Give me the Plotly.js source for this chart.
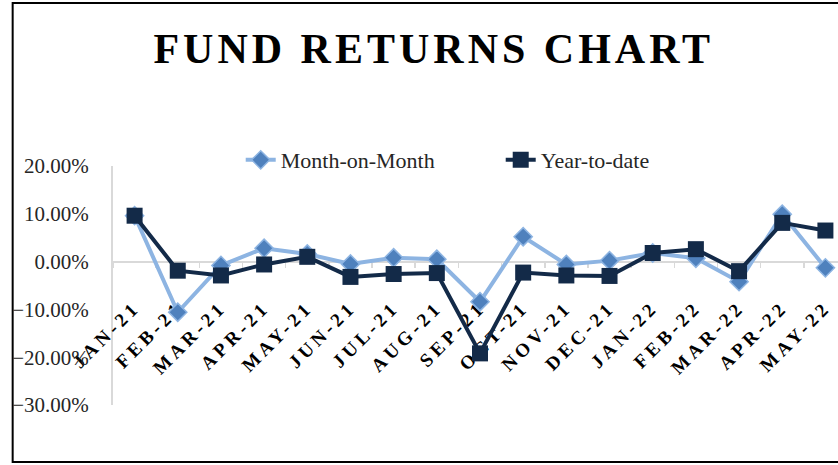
<!DOCTYPE html>
<html>
<head>
<meta charset="utf-8">
<script src="https://cdn.plot.ly/plotly-3.0.1.min.js"></script>
<style>
html, body { margin: 0; padding: 0; overflow: hidden; background: #fff; }
#chart { width: 870px; height: 465px; }
.gtitle { letter-spacing: 4px; }
.xtick text { letter-spacing: 4px; }
</style>
</head>
<body>
<div id="chart"></div>
<script>
const months = ['JAN-21','FEB-21','MAR-21','APR-21','MAY-21','JUN-21','JUL-21','AUG-21','SEP-21','OCT-21','NOV-21','DEC-21','JAN-22','FEB-22','MAR-22','APR-22','MAY-22'];
const monthOnMonth = [0.096, -0.106, -0.008, 0.028, 0.016, -0.005, 0.008, 0.005, -0.084, 0.052, -0.006, 0.002, 0.018, 0.007, -0.042, 0.099, -0.013];
const yearToDate = [0.096, -0.019, -0.029, -0.006, 0.010, -0.032, -0.026, -0.024, -0.192, -0.023, -0.029, -0.030, 0.018, 0.026, -0.020, 0.081, 0.065];
const yTicks = [-0.3, -0.2, -0.1, 0, 0.1, 0.2];

const serif = 'Liberation Serif, DejaVu Serif, serif';

const traces = [
  {
    x: months, y: monthOnMonth, name: 'Month-on-Month', type: 'scatter', mode: 'lines+markers',
    line: {color: '#8DB4E2', width: 4},
    marker: {symbol: 'diamond', size: 14, color: '#4F81BD', line: {color: '#8DB4E2', width: 1.5}}
  },
  {
    x: months, y: yearToDate, name: 'Year-to-date', type: 'scatter', mode: 'lines+markers',
    line: {color: '#132A48', width: 4},
    marker: {symbol: 'square', size: 16, color: '#132A48'}
  }
];

const layout = {
  width: 870, height: 465,
  margin: {l: 113, r: 23, t: 166, b: 60},
  paper_bgcolor: '#fff', plot_bgcolor: 'rgba(0,0,0,0)',
  showlegend: true,
  title: {
    text: 'FUND RETURNS CHART',
    font: {family: serif, size: 42, color: '#000', weight: 700},
    xref: 'paper', x: 0.437, xanchor: 'center',
    yref: 'container', y: 0.897, yanchor: 'middle'
  },
  legend: {
    orientation: 'h', x: 0.174, xanchor: 'left', y: 1.025, yanchor: 'middle',
    font: {family: serif, size: 22, color: '#262626'},
    entrywidth: 215, bgcolor: 'rgba(0,0,0,0)'
  },
  xaxis: {
    type: 'category', range: [-0.5, 16.5],
    anchor: 'free', position: 0.6,
    showline: true, linecolor: '#D9D9D9', linewidth: 2,
    showgrid: false, zeroline: false,
    ticks: 'outside', ticklen: 5, tickcolor: '#D9D9D9', tickwidth: 1.5, tickson: 'boundaries',
    tickangle: -45, ticklabelstandoff: 26,
    tickfont: {family: serif, size: 19, color: '#000', weight: 700},
    layer: 'below traces'
  },
  yaxis: {
    range: [-0.3, 0.2], tickvals: yTicks, tickformat: '.2%',
    showline: true, linecolor: '#D9D9D9', linewidth: 2,
    showgrid: false, zeroline: false, ticks: '',
    ticklabelstandoff: 18,
    tickfont: {family: serif, size: 21, color: '#262626'},
    layer: 'below traces'
  },
  shapes: [{
    type: 'rect', xref: 'paper', yref: 'paper',
    x0: -0.1367, x1: 1.2, y0: -0.2385, y1: 1.682,
    line: {color: '#000', width: 2}, fillcolor: 'rgba(0,0,0,0)', layer: 'below'
  }]
};

Plotly.newPlot('chart', traces, layout, {displayModeBar: false, staticPlot: true});
</script>
</body>
</html>
